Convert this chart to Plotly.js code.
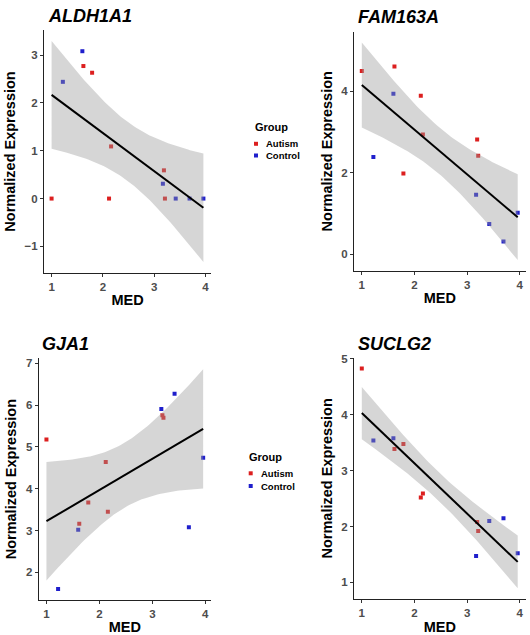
<!DOCTYPE html>
<html>
<head>
<meta charset="utf-8">
<script src="https://cdn.plot.ly/plotly-3.0.1.min.js"></script>
<style>html,body{margin:0;padding:0;background:#fff;}#chart{width:530px;height:635px;}</style>
</head>
<body>
<div id="chart"></div>
<script>
// ---- data ----
const med = [1.00, 1.22, 1.60, 1.62, 1.79, 2.12, 2.16, 3.17, 3.19, 3.21, 3.42, 3.69, 3.96];
const group = ["Autism","Control","Control","Autism","Autism","Autism","Autism","Control","Autism","Autism","Control","Control","Control"];
const genes = ["ALDH1A1", "FAM163A", "GJA1", "SUCLG2"];
const aldh1a1 = [0, 2.44, 3.08, 2.77, 2.63, 0, 1.09, 0.31, 0.59, 0, 0, 0, 0];
const fam163a = [4.50, 2.39, 3.94, 4.61, 1.98, 3.89, 2.94, 1.46, 2.82, 2.42, 0.74, 0.31, 1.02];
const gja1 = [5.18, 1.60, 3.02, 3.16, 3.67, 4.64, 3.45, 5.91, 5.76, 5.70, 6.27, 3.08, 4.74];
const suclg2 = [4.83, 3.54, 3.58, 3.39, 3.48, 2.52, 2.59, 1.47, 2.08, 1.92, 2.10, 2.15, 1.52];
const groupNames = ["Autism", "Control"];
const groupColors = ["#dc1f1f", "#1f1fcc"];
const yDticks = [1, 2, 1, 1];

const series = [aldh1a1, fam163a, gja1, suclg2];
const T975 = 2.201; // Student t quantile, df = n - 2 = 11, 95% band (as geom_smooth)

// panel boxes in pixels [left, right, top, bottom]
const W = 530, H = 635;
const boxes = [[44, 211, 30, 273], [354, 525.5, 31.5, 271], [38.6, 211, 358.3, 600], [354, 525.5, 357.5, 599.2]];

function lmBand(x, y) {
  const n = x.length;
  const mx = x.reduce((a, b) => a + b, 0) / n;
  const my = y.reduce((a, b) => a + b, 0) / n;
  let sxx = 0, sxy = 0, syy = 0;
  for (let i = 0; i < n; i++) { sxx += (x[i]-mx)**2; sxy += (x[i]-mx)*(y[i]-my); syy += (y[i]-my)**2; }
  const b = sxy / sxx, a = my - b * mx;
  const s = Math.sqrt((syy - sxy*sxy/sxx) / (n - 2));
  const xmin = Math.min(...x), xmax = Math.max(...x);
  const xs = [], fit = [], up = [], lo = [];
  for (let k = 0; k < 80; k++) {
    const xv = xmin + (xmax - xmin) * k / 79;
    const f = a + b * xv;
    const se = s * Math.sqrt(1/n + (xv-mx)**2/sxx);
    xs.push(xv); fit.push(f); up.push(f + T975*se); lo.push(f - T975*se);
  }
  return {xs, fit, up, lo};
}

const FONT = "Liberation Sans, Arial, Helvetica, sans-serif";
const traces = [];
const layout = {
  width: W, height: H,
  margin: {l: 0, r: 0, t: 0, b: 0},
  paper_bgcolor: "#fff", plot_bgcolor: "#fff",
  showlegend: false,
  annotations: [], shapes: []
};

series.forEach((ys, p) => {
  const ax = p === 0 ? "" : String(p + 1);
  const xref = "x" + ax, yref = "y" + ax;
  const band = lmBand(med, ys);
  // points first (ribbon drawn over them as in ggplot)
  groupNames.forEach((g, gi) => {
    const xs = [], yv = [];
    med.forEach((m, i) => { if (group[i] === g) { xs.push(m); yv.push(ys[i]); } });
    traces.push({type: "scatter", mode: "markers", x: xs, y: yv, xaxis: xref, yaxis: yref,
      marker: {symbol: "square", size: 4, color: groupColors[gi]}, name: g, hoverinfo: "x+y"});
  });
  traces.push({type: "scatter", mode: "lines", x: band.xs.concat(band.xs.slice().reverse()),
    y: band.up.concat(band.lo.slice().reverse()), fill: "toself", fillcolor: "rgba(153,153,153,0.4)",
    line: {width: 0}, xaxis: xref, yaxis: yref, hoverinfo: "skip"});
  traces.push({type: "scatter", mode: "lines", x: band.xs, y: band.fit, line: {color: "#000", width: 2},
    xaxis: xref, yaxis: yref, hoverinfo: "skip"});

  const allY = ys.concat(band.up, band.lo);
  const ymin = Math.min(...allY), ymax = Math.max(...allY);
  const xmin = Math.min(...med), xmax = Math.max(...med);
  const bx = boxes[p];
  const common = {showline: true, linecolor: "#222", linewidth: 1, ticks: "outside", ticklen: 3,
    tickcolor: "#333", tickwidth: 1, showgrid: false, zeroline: false,
    tickfont: {family: FONT, size: 11.5, color: "#4d4d4d", weight: "bold"}};
  layout["xaxis" + ax] = Object.assign({}, common, {
    domain: [bx[0]/W, bx[1]/W], anchor: yref,
    range: [xmin - 0.05*(xmax-xmin), xmax + 0.05*(xmax-xmin)], dtick: 1, tick0: 0,
    title: {text: "MED", font: {family: FONT, size: 14.5, color: "#000", weight: "bold"}, standoff: 3}
  });
  layout["yaxis" + ax] = Object.assign({}, common, {
    domain: [1 - bx[3]/H, 1 - bx[2]/H], anchor: xref,
    range: [ymin - 0.05*(ymax-ymin), ymax + 0.05*(ymax-ymin)], dtick: yDticks[p], tick0: 0,
    title: {text: "Normalized Expression", font: {family: FONT, size: 14.5, color: "#000", weight: "bold"}, standoff: 5}
  });
  layout.annotations.push({text: genes[p], xref: "paper", yref: "paper", x: (bx[0] + 1.5)/W,
    y: 1 - (bx[2] - 14)/H, xanchor: "left", yanchor: "middle", showarrow: false,
    font: {family: FONT, size: 18, color: "#000", weight: "bold", style: "italic"}});
});

// manual legends (one per row)
const legends = [{x: 252.7, y: 126.7, keyX: 256, textX: 264.3, rows: [143.8, 155.5]},
                 {x: 246.7, y: 456.7, keyX: 250.7, textX: 259.3, rows: [473.3, 486]}];
legends.forEach(L => {
  layout.annotations.push({text: "Group", xref: "paper", yref: "paper", x: L.x/W, y: 1 - L.y/H,
    xanchor: "left", yanchor: "middle", showarrow: false,
    font: {family: FONT, size: 11, color: "#000", weight: "bold"}});
  groupNames.forEach((g, gi) => {
    const cy = L.rows[gi];
    layout.shapes.push({type: "rect", xref: "paper", yref: "paper",
      x0: (L.keyX - 2)/W, x1: (L.keyX + 2)/W, y0: 1 - (cy + 2)/H, y1: 1 - (cy - 2)/H,
      fillcolor: groupColors[gi], line: {width: 0}});
    layout.annotations.push({text: g, xref: "paper", yref: "paper", x: L.textX/W, y: 1 - cy/H,
      xanchor: "left", yanchor: "middle", showarrow: false,
      font: {family: FONT, size: 9.5, color: "#000", weight: "bold"}});
  });
});

Plotly.newPlot("chart", traces, layout, {staticPlot: true, displayModeBar: false});
</script>
</body>
</html>
